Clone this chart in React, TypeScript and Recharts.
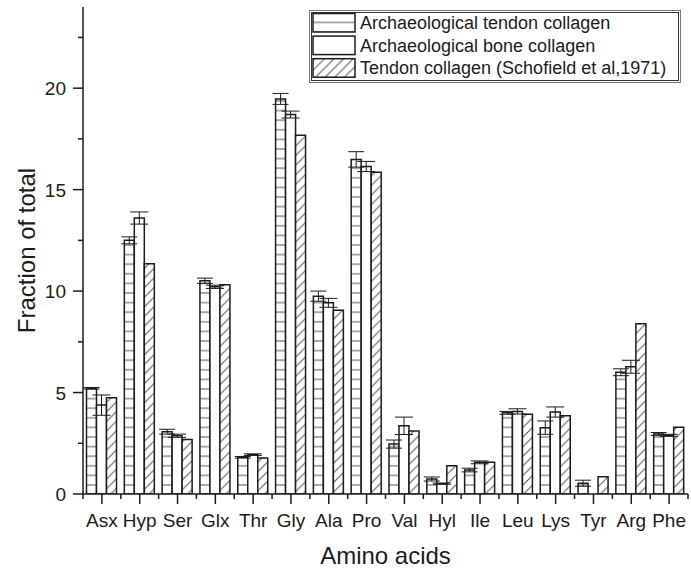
import { BarChart, Bar, XAxis, YAxis, ErrorBar, Legend } from 'recharts'

const categories = ['Asx', 'Hyp', 'Ser', 'Glx', 'Thr', 'Gly', 'Ala', 'Pro', 'Val', 'Hyl', 'Ile', 'Leu', 'Lys', 'Tyr', 'Arg', 'Phe']

const tendonValues = [5.21, 12.5, 3.07, 10.51, 1.81, 19.47, 9.75, 16.49, 2.46, 0.74, 1.18, 4.0, 3.27, 0.53, 6.0, 2.96]
const tendonErrors = [0.04, 0.17, 0.12, 0.13, 0.04, 0.27, 0.25, 0.38, 0.2, 0.1, 0.09, 0.07, 0.33, 0.15, 0.17, 0.07]
const boneValues = [4.38, 13.6, 2.87, 10.21, 1.94, 18.7, 9.42, 16.14, 3.36, 0.51, 1.56, 4.07, 4.04, 0, 6.27, 2.89]
const boneErrors = [0.5, 0.3, 0.08, 0.08, 0.04, 0.17, 0.22, 0.25, 0.43, 0.03, 0.07, 0.13, 0.25, 0, 0.32, 0.05]
const schofieldValues = [4.74, 11.35, 2.69, 10.31, 1.77, 17.68, 9.06, 15.86, 3.1, 1.39, 1.57, 3.93, 3.86, 0.85, 8.39, 3.29]

const seriesOrder = ['tendon', 'bone', 'schofield']

const yTicks = [0, 2.5, 5, 7.5, 10, 12.5, 15, 17.5, 20, 22.5]

const data = categories.map((name, i) => ({
  name,
  tendon: tendonValues[i],
  tendonErr: tendonErrors[i],
  bone: boneValues[i],
  boneErr: boneErrors[i],
  schofield: schofieldValues[i],
}))

const W = 691
const H = 575
const MARGIN = { top: 7, right: 3, left: 0, bottom: 0 }
const Y_AXIS_W = 83
const X_AXIS_H = 81
const BAND = (W - MARGIN.left - MARGIN.right - Y_AXIS_W) / categories.length

const INK = '#1c1c1c'
const HATCH = '#555'
const FONT = 'Liberation Sans, Arial, sans-serif'

const fills: Record<string, string> = {
  tendon: 'url(#hLines)',
  bone: '#fff',
  schofield: 'url(#diag)',
}

function Patterns({ suffix = '', yOffset = 0 }: { suffix?: string; yOffset?: number }) {
  return (
    <defs>
      <pattern id={`hLines${suffix}`} patternUnits="userSpaceOnUse" width={10} height={9.6} y={yOffset}>
        <rect width={10} height={9.6} fill="#fff" />
        <line x1={0} x2={10} y1={4.8} y2={4.8} stroke={HATCH} strokeWidth={1} />
      </pattern>
      <pattern id={`diag${suffix}`} patternUnits="userSpaceOnUse" width={9.6} height={9.6}>
        <rect width={9.6} height={9.6} fill="#fff" />
        <path d="M0,9.6 L9.6,0 M-2,2 L2,-2 M7.6,11.6 L11.6,7.6" stroke={HATCH} strokeWidth={1} />
      </pattern>
    </defs>
  )
}

const XTick = (props: any) => {
  const { x, y, payload, index } = props
  return (
    <g>
      <line x1={x} x2={x} y1={y} y2={y + 10} stroke={INK} strokeWidth={1.5} />
      <line x1={x + BAND / 2} x2={x + BAND / 2} y1={y} y2={y + 5} stroke={INK} strokeWidth={1.5} />
      {index === 0 && (
        <line x1={x - BAND / 2} x2={x - BAND / 2} y1={y} y2={y + 5} stroke={INK} strokeWidth={1.5} />
      )}
      <text x={x} y={y + 33} textAnchor="middle" fontSize={19} fill={INK} fontFamily={FONT}>
        {payload.value}
      </text>
    </g>
  )
}

const YTick = (props: any) => {
  const { x, y, payload } = props
  const major = payload.value % 5 === 0
  return (
    <g>
      <line x1={x - (major ? 10 : 5)} x2={x} y1={y} y2={y} stroke={INK} strokeWidth={1.5} />
      {major && (
        <text x={x - 17} y={y + 7} textAnchor="end" fontSize={19} fill={INK} fontFamily={FONT}>
          {payload.value}
        </text>
      )}
    </g>
  )
}

const yTitle = (props: any) => {
  const { viewBox } = props
  const cx = viewBox.x + 35
  const cy = viewBox.y + viewBox.height / 2
  return (
    <text x={cx} y={cy} transform={`rotate(-90 ${cx} ${cy})`} textAnchor="middle" fontSize={24} fill={INK} fontFamily={FONT}>
      Fraction of total
    </text>
  )
}

const xTitle = (props: any) => {
  const { viewBox } = props
  return (
    <text x={viewBox.x + viewBox.width / 2} y={viewBox.y + 70} textAnchor="middle" fontSize={24} fill={INK} fontFamily={FONT}>
      Amino acids
    </text>
  )
}

// boxed legend with a double frame, swatches use the same hatch patterns
const renderLegend = (props: any) => {
  const payload = [...(props.payload || [])].sort(
    (a: any, b: any) => seriesOrder.indexOf(a.dataKey) - seriesOrder.indexOf(b.dataKey),
  )
  return (
    <svg width={376} height={78} style={{ display: 'block' }}>
      <Patterns suffix="L" yOffset={0} />
      <rect x={1.5} y={2.5} width={371} height={72} fill="#fff" stroke="#777" strokeWidth={1} />
      <rect x={3.5} y={4.5} width={367} height={68} fill="none" stroke="#333" strokeWidth={1} />
      {payload.map((p: any, i: number) => {
        const top = 5.5 + i * 22.6
        const fill = p.dataKey === 'tendon' ? 'url(#hLinesL)' : p.dataKey === 'schofield' ? 'url(#diagL)' : '#fff'
        return (
          <g key={p.dataKey}>
            <rect x={5} y={top} width={42} height={18.5} fill={fill} stroke={INK} strokeWidth={1.5} />
            <text x={52} y={top + 15.5} fontSize={18} fill={INK} fontFamily={FONT}>
              {p.value}
            </text>
          </g>
        )
      })}
    </svg>
  )
}

export default function App() {
  return (
    <div style={{ position: 'absolute', left: 0, top: 0, background: '#fff' }}>
      <BarChart
        width={W}
        height={H}
        data={data}
        margin={MARGIN}
        barCategoryGap={3.5}
        barGap={0}
      >
        <Patterns yOffset={485 - 4.8} />
        <XAxis
          dataKey="name"
          height={X_AXIS_H}
          tick={<XTick />}
          tickLine={false}
          tickSize={0}
          tickMargin={0}
          interval={0}
          axisLine={{ stroke: INK, strokeWidth: 1.5 }}
          label={xTitle}
        />
        <XAxis xAxisId="top" dataKey="name" orientation="top" height={0} tick={false} tickLine={false} axisLine={{ stroke: INK, strokeWidth: 1.5 }} />
        <YAxis
          width={Y_AXIS_W}
          domain={[0, 24]}
          ticks={yTicks}
          allowDataOverflow
          tick={<YTick />}
          tickLine={false}
          tickSize={0}
          tickMargin={0}
          interval={0}
          axisLine={{ stroke: INK, strokeWidth: 1.5 }}
          label={yTitle}
        />
        <YAxis yAxisId="right" orientation="right" width={0} domain={[0, 24]} tick={false} tickLine={false} axisLine={{ stroke: INK, strokeWidth: 1.5 }} />
        <Legend
          layout="vertical"
          align="center"
          verticalAlign="middle"
          content={renderLegend}
          wrapperStyle={{ left: 308, top: 8, width: 376, height: 78 }}
        />
        <Bar dataKey="tendon" name="Archaeological tendon collagen" fill={fills.tendon} stroke={INK} strokeWidth={1.5} isAnimationActive={false}>
          <ErrorBar dataKey="tendonErr" width={8} stroke={INK} strokeWidth={1} direction="y" />
        </Bar>
        <Bar dataKey="bone" name="Archaeological bone collagen" fill={fills.bone} stroke={INK} strokeWidth={1.5} isAnimationActive={false}>
          <ErrorBar dataKey="boneErr" width={9} stroke={INK} strokeWidth={1} direction="y" />
        </Bar>
        <Bar dataKey="schofield" name="Tendon collagen (Schofield et al,1971)" fill={fills.schofield} stroke={INK} strokeWidth={1.5} isAnimationActive={false} />
      </BarChart>
    </div>
  )
}
